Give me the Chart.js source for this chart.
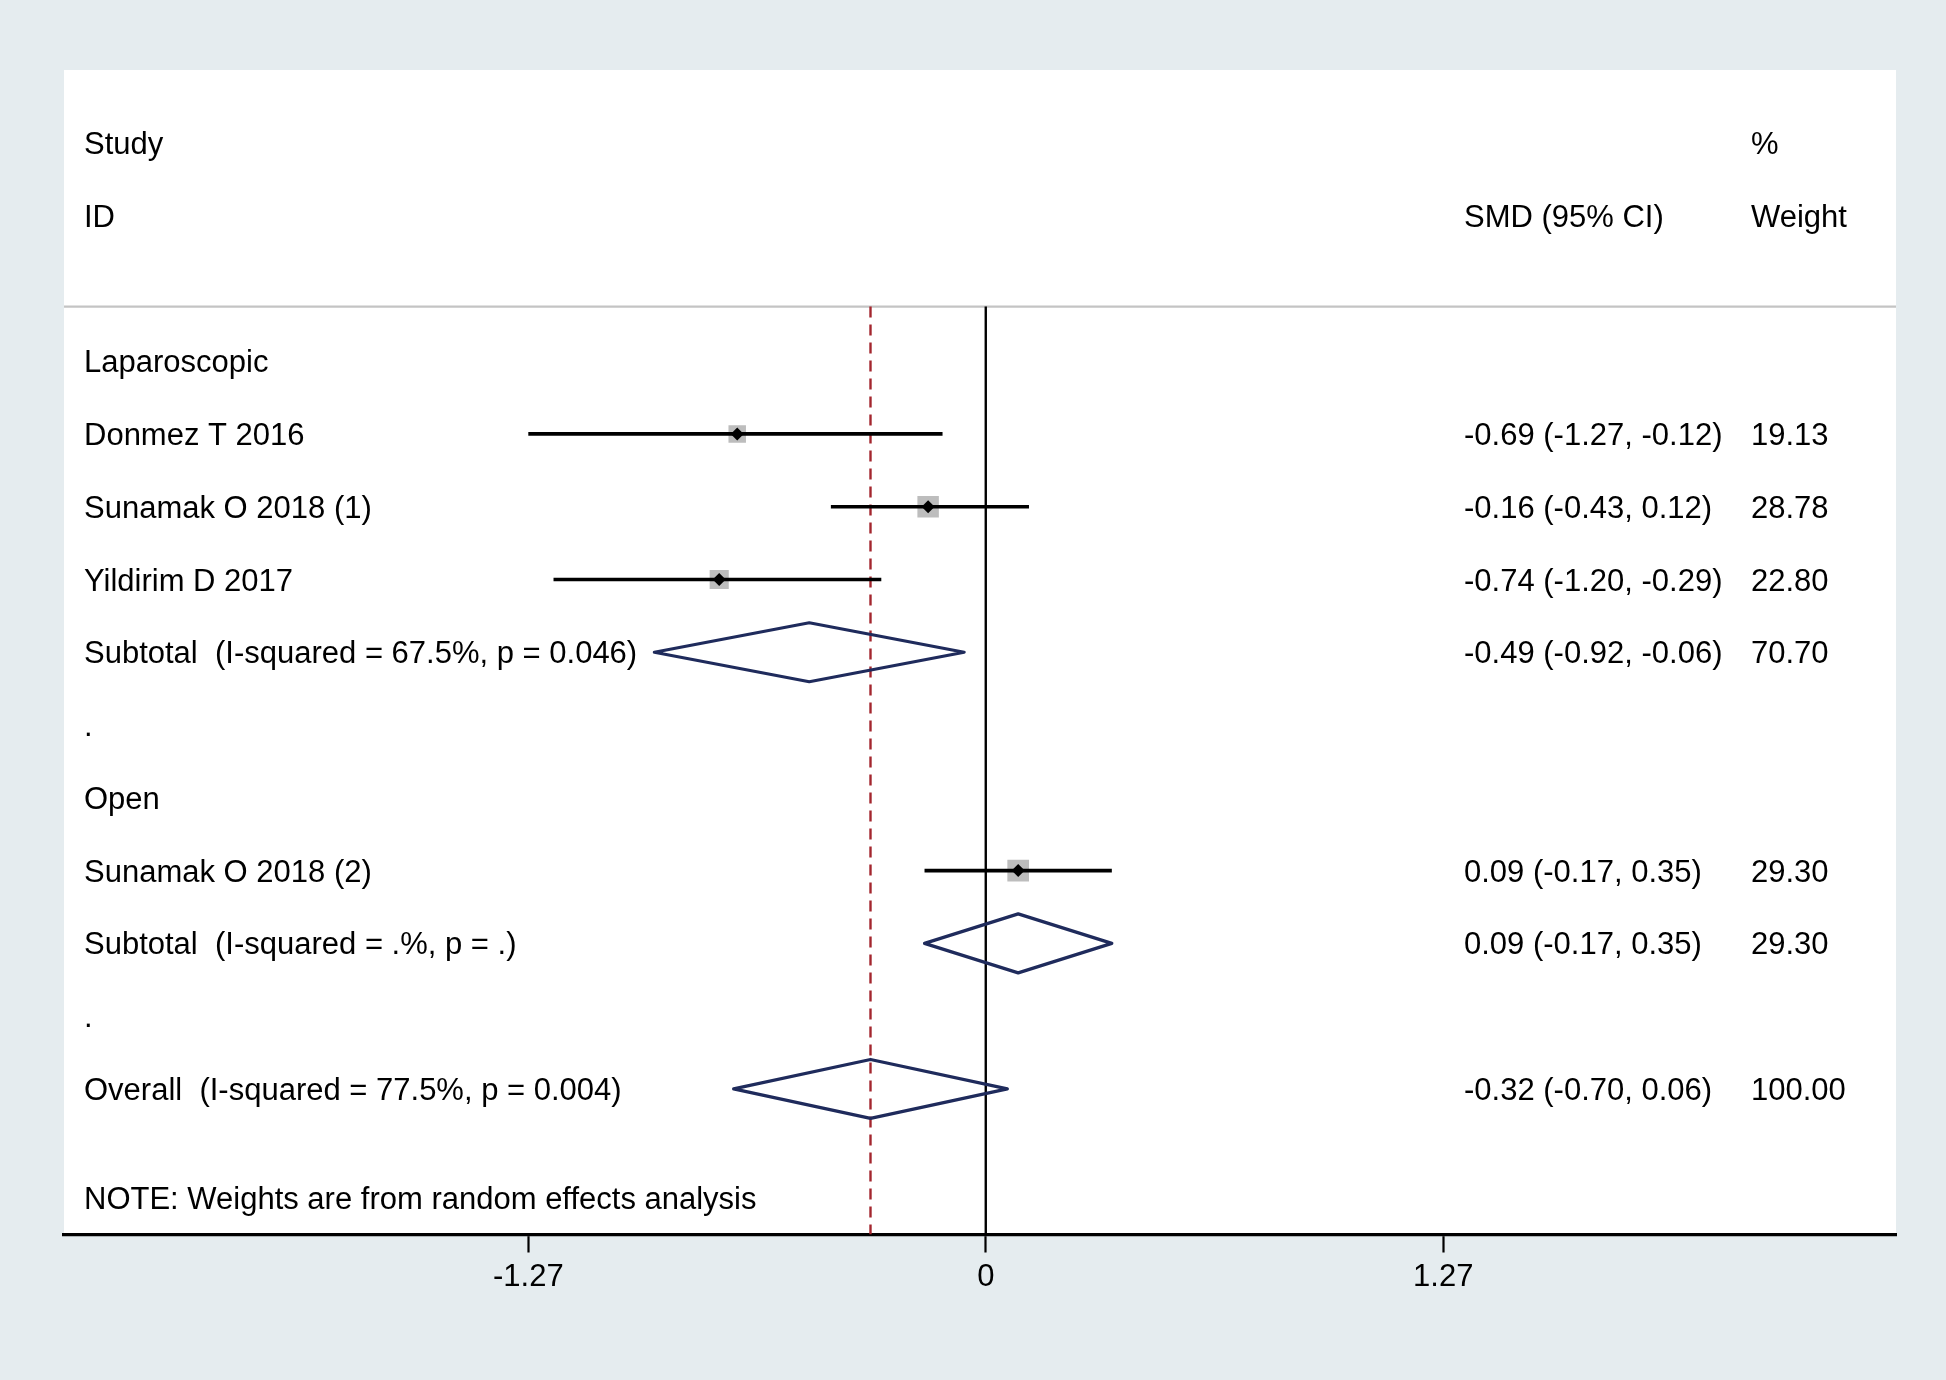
<!DOCTYPE html>
<html>
<head>
<meta charset="utf-8">
<script src="https://cdn.jsdelivr.net/npm/chart.js@4.4.1/dist/chart.umd.min.js"></script>
<style>
  html, body { margin: 0; padding: 0; background: #e5ecef; }
  #wrap { width: 1946px; height: 1380px; position: relative; }
  canvas { display: block; }
</style>
</head>
<body>
<div id="wrap"><canvas id="c" width="1946" height="1380"></canvas></div>
<script>
// ---------- data ----------
const studyLabels = ["Donmez T 2016", "Sunamak O 2018 (1)", "Yildirim D 2017", "Sunamak O 2018 (2)"];
const studyRows   = [2, 3, 4, 8];
const studyEst    = [-0.69, -0.16, -0.74, 0.09];
const studyLo     = [-1.27, -0.43, -1.20, -0.17];
const studyHi     = [-0.12, 0.12, -0.29, 0.35];
const studyWeight = [19.13, 28.78, 22.80, 29.30];

const summaryLabels = ["Subtotal  (I-squared = 67.5%, p = 0.046)", "Subtotal  (I-squared = .%, p = .)", "Overall  (I-squared = 77.5%, p = 0.004)"];
const summaryRows   = [5, 9, 11];
const summaryEst    = [-0.49, 0.09, -0.32];
const summaryLo     = [-0.92, -0.17, -0.70];
const summaryHi     = [-0.06, 0.35, 0.06];
const summaryWeight = [70.70, 29.30, 100.00];

const groupLabels = ["Laparoscopic", ".", "Open", "."];
const groupRows   = [1, 6, 7, 10];

const noteText = "NOTE: Weights are from random effects analysis";
const noteRow = 12.5;

const headerLeft  = ["Study", "ID"];
const headerCI    = "SMD (95% CI)";
const headerWeight = ["%", "Weight"];
const headerRows  = [-2, -1];

const tickValues = [-1.27, 0, 1.27];
const tickLabels = ["-1.27", "0", "1.27"];

const overallEst = summaryEst[2];

// ---------- layout / style ----------
const X_MIN = -2.559, X_MAX = 2.527;
const Y_MIN = -3, Y_MAX = 13;
const FONT = "31px 'Liberation Sans', Arial, sans-serif";
const TEXT_DY = 2.5;
const COL_LEFT = 84, COL_CI = 1464, COL_W = 1751;
const BG = "#e5ecef";
const NAVY = "#1f2b5c";
const RED = "#a3262e";
const LINE_TOP = 0.25;
const DIAMOND_HALF = 0.405;

const fmt = v => v.toFixed(2);

// ---------- datasets ----------
const datasets = [];

// header separator
datasets.push({
  type: 'line', data: [{x: X_MIN, y: LINE_TOP}, {x: X_MAX, y: LINE_TOP}],
  borderColor: '#c4c4c4', borderWidth: 2.2, pointRadius: 0, fill: false, clip: false, order: 10
});
// zero line
datasets.push({
  type: 'line', data: [{x: 0, y: LINE_TOP}, {x: 0, y: Y_MAX}],
  borderColor: '#000', borderWidth: 2.4, pointRadius: 0, fill: false, order: 9
});
// overall dashed line
datasets.push({
  type: 'line', data: [{x: overallEst, y: LINE_TOP}, {x: overallEst, y: Y_MAX}],
  borderColor: RED, borderWidth: 2.4, borderDash: [11, 7], pointRadius: 0, fill: false, order: 8
});
// CI lines
studyRows.forEach((r, i) => {
  datasets.push({
    type: 'line', data: [{x: studyLo[i], y: r}, {x: studyHi[i], y: r}],
    borderColor: '#000', borderWidth: 3.6, pointRadius: 0, fill: false, order: 4
  });
});
// grey weight squares
datasets.push({
  type: 'scatter',
  data: studyRows.map((r, i) => ({x: studyEst[i], y: r})),
  pointStyle: 'rect',
  pointRadius: studyWeight.map(w => 4.0 * Math.sqrt(w) / Math.SQRT2),
  backgroundColor: '#bdbdbd', borderWidth: 0, order: 5
});
// black point diamonds
datasets.push({
  type: 'scatter',
  data: studyRows.map((r, i) => ({x: studyEst[i], y: r})),
  pointStyle: 'rectRot', pointRadius: 6.5,
  backgroundColor: '#000', borderColor: '#000', borderWidth: 0, order: 1
});
// summary diamonds
summaryRows.forEach((r, i) => {
  datasets.push({
    type: 'line',
    data: [
      {x: summaryLo[i], y: r},
      {x: summaryEst[i], y: r - DIAMOND_HALF},
      {x: summaryHi[i], y: r},
      {x: summaryEst[i], y: r + DIAMOND_HALF},
      {x: summaryLo[i], y: r}
    ],
    borderColor: NAVY, borderWidth: 3.2, pointRadius: 0, fill: false, tension: 0,
    borderJoinStyle: 'round', borderCapStyle: 'round', order: 2
  });
});

// ---------- plugins ----------
const panelPlugin = {
  id: 'panel',
  beforeDraw(chart) {
    const {ctx, chartArea} = chart;
    ctx.save();
    ctx.fillStyle = BG;
    ctx.fillRect(0, 0, chart.width, chart.height);
    ctx.fillStyle = '#ffffff';
    ctx.fillRect(chartArea.left, chartArea.top, chartArea.right - chartArea.left, chartArea.bottom - chartArea.top);
    ctx.restore();
  }
};

const textPlugin = {
  id: 'texts',
  afterDatasetsDraw(chart) {
    const {ctx} = chart;
    const ys = chart.scales.y;
    ctx.save();
    ctx.font = FONT;
    ctx.fillStyle = '#000';
    ctx.textAlign = 'left';
    ctx.textBaseline = 'middle';
    const put = (t, x, row) => ctx.fillText(t, x, ys.getPixelForValue(row) + TEXT_DY);
    headerRows.forEach((r, i) => { put(headerLeft[i], COL_LEFT, r); put(headerWeight[i], COL_W, r); });
    put(headerCI, COL_CI, headerRows[1]);
    groupRows.forEach((r, i) => put(groupLabels[i], COL_LEFT, r));
    studyRows.forEach((r, i) => {
      put(studyLabels[i], COL_LEFT, r);
      put(`${fmt(studyEst[i])} (${fmt(studyLo[i])}, ${fmt(studyHi[i])})`, COL_CI, r);
      put(fmt(studyWeight[i]), COL_W, r);
    });
    summaryRows.forEach((r, i) => {
      put(summaryLabels[i], COL_LEFT, r);
      put(`${fmt(summaryEst[i])} (${fmt(summaryLo[i])}, ${fmt(summaryHi[i])})`, COL_CI, r);
      put(fmt(summaryWeight[i]), COL_W, r);
    });
    put(noteText, COL_LEFT, noteRow);
    ctx.restore();
  }
};

// ---------- chart ----------
new Chart(document.getElementById('c'), {
  type: 'scatter',
  data: { datasets },
  options: {
    responsive: false,
    devicePixelRatio: 1,
    animation: false,
    layout: { padding: { left: 64, right: 50, top: 70, bottom: 0 } },
    plugins: { legend: { display: false }, tooltip: { enabled: false } },
    elements: { line: { borderCapStyle: 'butt' } },
    scales: {
      x: {
        type: 'linear', min: X_MIN, max: X_MAX, position: 'bottom',
        afterBuildTicks: s => { s.ticks = tickValues.map(v => ({value: v})); },
        afterFit: s => { s.height = 145.5; },
        ticks: {
          autoSkip: false, maxRotation: 0, color: '#000', padding: 6,
          font: { family: "'Liberation Sans', Arial, sans-serif", size: 31 },
          callback: (v) => { const i = tickValues.indexOf(v); return i >= 0 ? tickLabels[i] : ''; }
        },
        grid: { drawOnChartArea: false, drawTicks: true, tickLength: 18, tickColor: '#000', tickWidth: 2.2 },
        border: { display: true, color: '#000', width: 3.2 }
      },
      y: {
        type: 'linear', min: Y_MIN, max: Y_MAX, reverse: true, display: false
      }
    }
  },
  plugins: [panelPlugin, textPlugin]
});
</script>
</body>
</html>
